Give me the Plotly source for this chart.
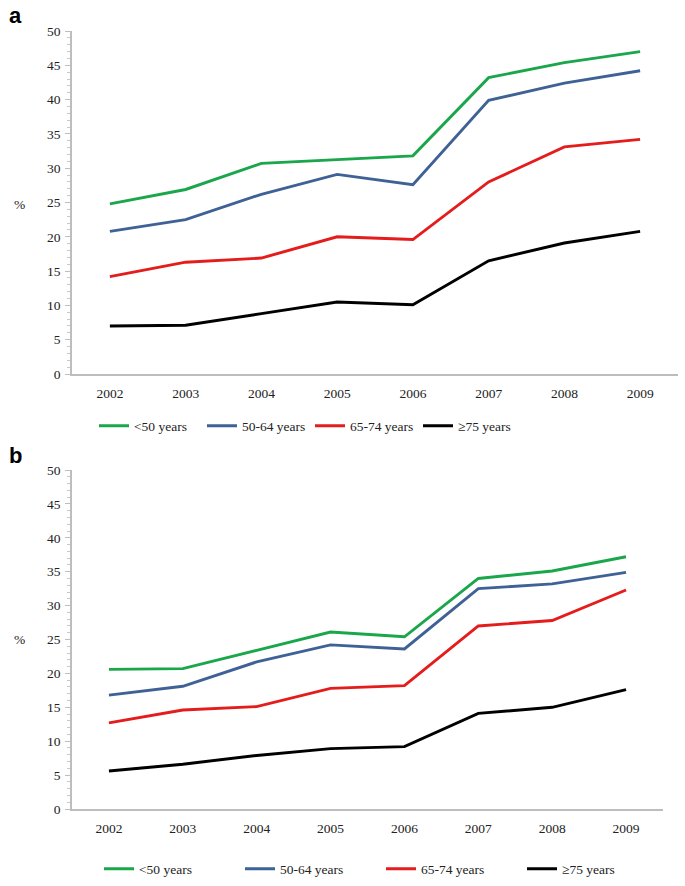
import plotly.graph_objects as go

years = ["2002", "2003", "2004", "2005", "2006", "2007", "2008", "2009"]
series_names = ["<50 years", "50-64 years", "65-74 years", "≥75 years"]
colors = ["#1aa64a", "#3f6296", "#e41c1c", "#000000"]

a_lt50 = [24.8, 26.9, 30.7, 31.3, 31.8, 43.2, 45.4, 47.0]
a_50_64 = [20.8, 22.5, 26.2, 29.1, 27.6, 39.9, 42.4, 44.2]
a_65_74 = [14.2, 16.3, 16.9, 20.0, 19.6, 28.0, 33.1, 34.2]
a_ge75 = [7.0, 7.1, 8.8, 10.5, 10.1, 16.5, 19.1, 20.8]

b_lt50 = [20.6, 20.7, 23.4, 26.1, 25.4, 34.0, 35.1, 37.2]
b_50_64 = [16.8, 18.1, 21.7, 24.2, 23.6, 32.5, 33.2, 34.9]
b_65_74 = [12.7, 14.6, 15.1, 17.8, 18.2, 27.0, 27.8, 32.3]
b_ge75 = [5.6, 6.6, 7.9, 8.9, 9.2, 14.1, 15.0, 17.6]

y_ticks = [0, 5, 10, 15, 20, 25, 30, 35, 40, 45, 50]

W, H = 685, 886


def px(x):
    return min(1.0, max(0.0, x / W))


def py(y):
    return min(1.0, max(0.0, 1 - y / H))


fig = go.Figure()

panels = [
    ([a_lt50, a_50_64, a_65_74, a_ge75], "x", "y", "legend"),
    ([b_lt50, b_50_64, b_65_74, b_ge75], "x2", "y2", "legend2"),
]
for vals, xa, ya, lg in panels:
    for name, col, v in zip(series_names, colors, vals):
        fig.add_trace(go.Scatter(
            x=years, y=v, name=name, mode="lines",
            line=dict(color=col, width=2.9),
            xaxis=xa, yaxis=ya, legend=lg,
        ))

serif = "Liberation Serif, Times New Roman, serif"
tickfont = dict(family=serif, size=13.5, color="#222222")


def xaxis(domain, anchor):
    return dict(domain=domain, anchor=anchor, type="category", automargin=False,
                range=[-0.5, 7.5], showgrid=False, zeroline=False,
                showline=True, linecolor="#bdbdbd", linewidth=1.5,
                ticks="", tickfont=tickfont, ticklabelstandoff=6, fixedrange=True)


def yaxis(domain, anchor):
    return dict(domain=domain, anchor=anchor, range=[0, 50], automargin=False,
                tickvals=y_ticks, showgrid=False, zeroline=False,
                showline=True, linecolor="#bdbdbd", linewidth=1.5,
                ticks="outside", ticklen=5, tickcolor="#bdbdbd",
                minor=dict(dtick=1, ticks="outside", ticklen=3, tickcolor="#c8c8c8", showgrid=False),
                tickfont=tickfont, ticklabelstandoff=2)


legfont = dict(family=serif, size=13.5, color="#222222")

fig.update_layout(
    width=W, height=H,
    margin=dict(l=0, r=0, t=0, b=0, autoexpand=False),
    paper_bgcolor="white", plot_bgcolor="white",
    showlegend=True,
    xaxis=xaxis([px(72), px(678)], "y"),
    yaxis=yaxis([py(374), py(31)], "x"),
    xaxis2=xaxis([px(72), px(663)], "y2"),
    yaxis2=yaxis([py(809), py(470)], "x2"),
    legend=dict(orientation="h", x=px(94), y=py(426), xanchor="left", yanchor="middle",
                font=legfont, entrywidth=63, entrywidthmode="pixels", itemwidth=30,
                bgcolor="rgba(0,0,0,0)"),
    legend2=dict(orientation="h", x=px(99), y=py(869), xanchor="left", yanchor="middle",
                 font=legfont, entrywidth=96, entrywidthmode="pixels", itemwidth=30,
                 bgcolor="rgba(0,0,0,0)"),
    annotations=[
        dict(text="<b>a</b>", x=px(7), y=py(16), xref="paper", yref="paper",
             xanchor="left", yanchor="middle", showarrow=False,
             font=dict(family="Liberation Sans, Arial, sans-serif", size=22, color="black")),
        dict(text="<b>b</b>", x=px(7), y=py(455), xref="paper", yref="paper",
             xanchor="left", yanchor="middle", showarrow=False,
             font=dict(family="Liberation Sans, Arial, sans-serif", size=22, color="black")),
        dict(text="%", x=px(19), y=py(204), xref="paper", yref="paper",
             xanchor="center", yanchor="middle", showarrow=False, font=legfont),
        dict(text="%", x=px(19), y=py(639), xref="paper", yref="paper",
             xanchor="center", yanchor="middle", showarrow=False, font=legfont),
    ],
)

fig.write_html("out.html", config={"displayModeBar": False},
               post_script="document.body.style.margin='0';")
